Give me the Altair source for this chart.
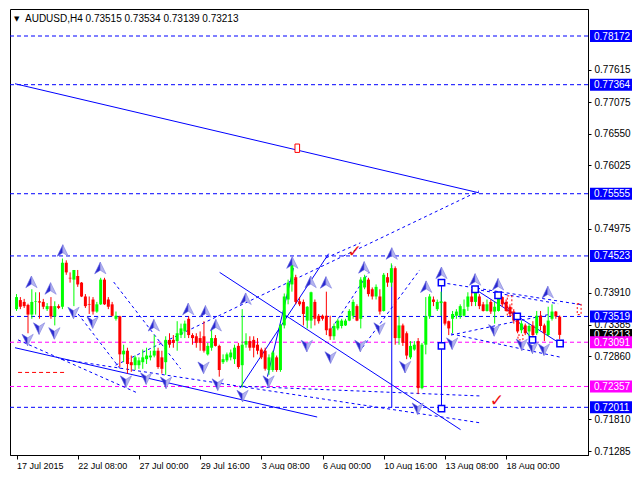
import altair as alt
import pandas as pd

# ---------------- candle data (AUDUSD H4, one bar every 4 hours) ----------------
open_ = [0.7364, 0.7379, 0.7376, 0.7371, 0.7355, 0.7376, 0.7377, 0.7376, 0.7364, 0.7369,
         0.7352, 0.7369, 0.7368, 0.7441, 0.7416, 0.7413, 0.7419, 0.7408, 0.7385, 0.7372,
         0.7380, 0.7360, 0.7372, 0.7413, 0.7380, 0.7372, 0.7348, 0.7352, 0.7289, 0.7295,
         0.7276, 0.7271, 0.7271, 0.7276, 0.7281, 0.7284, 0.7287, 0.7295, 0.7284, 0.7276,
         0.7313, 0.7313, 0.7311, 0.7321, 0.7327, 0.7348, 0.7321, 0.7319, 0.7316, 0.7319,
         0.7289, 0.7300, 0.7316, 0.7303, 0.7276, 0.7279, 0.7284, 0.7281, 0.7303, 0.7271,
         0.7305, 0.7311, 0.7313, 0.7305, 0.7297, 0.7295, 0.7263, 0.7263, 0.7284, 0.7263,
         0.7337, 0.7380, 0.7405, 0.7417, 0.7377, 0.7376, 0.7345, 0.7345, 0.7376, 0.7353,
         0.7353, 0.7353, 0.7332, 0.7319, 0.7332, 0.7336, 0.7337, 0.7345, 0.7353, 0.7369,
         0.7348, 0.7400, 0.7413, 0.7397, 0.7385, 0.7385, 0.7361, 0.7417, 0.7408, 0.7432,
         0.7316, 0.7337, 0.7324, 0.7284, 0.7297, 0.7311, 0.7233, 0.7305, 0.7352, 0.7380,
         0.7364, 0.7374, 0.7376, 0.7344, 0.7348, 0.7353, 0.7353, 0.7353, 0.7368, 0.7385,
         0.7376, 0.7385, 0.7372, 0.7361, 0.7376, 0.7360, 0.7361, 0.7384, 0.7376, 0.7368,
         0.7360, 0.7348, 0.7329, 0.7337, 0.7327, 0.7337, 0.7324, 0.7353, 0.7337, 0.7321,
         0.7348, 0.7360, 0.73515]
high = [0.7389, 0.7384, 0.7381, 0.7373, 0.7397, 0.7392, 0.7392, 0.7381, 0.7374, 0.7384,
        0.7377, 0.7372, 0.7448, 0.7445, 0.7425, 0.7429, 0.7429, 0.7409, 0.7389, 0.7385,
        0.7384, 0.7376, 0.7416, 0.7416, 0.7384, 0.7376, 0.7360, 0.7353, 0.7305, 0.7300,
        0.7287, 0.7287, 0.7284, 0.7297, 0.7300, 0.7295, 0.7321, 0.7300, 0.7295, 0.7319,
        0.7324, 0.7321, 0.7344, 0.7340, 0.7345, 0.7352, 0.7324, 0.7324, 0.7327, 0.7344,
        0.7308, 0.7332, 0.7321, 0.7305, 0.7289, 0.7292, 0.7297, 0.7305, 0.7308, 0.7364,
        0.7324, 0.7319, 0.7319, 0.7316, 0.7300, 0.7300, 0.7289, 0.7295, 0.7287, 0.7340,
        0.7390, 0.7413, 0.7441, 0.7421, 0.7384, 0.7380, 0.7369, 0.7393, 0.7380, 0.7356,
        0.7355, 0.7393, 0.7353, 0.7340, 0.7348, 0.7348, 0.7348, 0.7364, 0.7380, 0.7372,
        0.7417, 0.7421, 0.7416, 0.7400, 0.7405, 0.7397, 0.7424, 0.7424, 0.7440, 0.7435,
        0.7353, 0.7340, 0.7327, 0.7311, 0.7311, 0.7316, 0.7308, 0.7384, 0.7389, 0.7385,
        0.7380, 0.7393, 0.7377, 0.7345, 0.7361, 0.7364, 0.7372, 0.7380, 0.7392, 0.7397,
        0.7400, 0.7389, 0.7376, 0.7380, 0.7380, 0.7376, 0.7389, 0.7385, 0.7380, 0.7372,
        0.7364, 0.7353, 0.7345, 0.7340, 0.7340, 0.7344, 0.7361, 0.7361, 0.7340, 0.7368,
        0.7372, 0.7361, 0.73534]
low = [0.7361, 0.7364, 0.7366, 0.7324, 0.7348, 0.7355, 0.7348, 0.7364, 0.7361, 0.7348,
       0.7337, 0.7364, 0.7364, 0.7421, 0.7408, 0.7369, 0.7401, 0.7384, 0.7366, 0.7356,
       0.7355, 0.7358, 0.7371, 0.7371, 0.7364, 0.7352, 0.7345, 0.7268, 0.7276, 0.7257,
       0.7260, 0.7263, 0.7265, 0.7265, 0.7273, 0.7279, 0.7284, 0.7265, 0.7257, 0.7255,
       0.7300, 0.7300, 0.7295, 0.7316, 0.7316, 0.7316, 0.7305, 0.7300, 0.7295, 0.7292,
       0.7287, 0.7295, 0.7302, 0.7252, 0.7273, 0.7276, 0.7279, 0.7273, 0.7265, 0.7234,
       0.7300, 0.7295, 0.7284, 0.7289, 0.7281, 0.7262, 0.7255, 0.7260, 0.7260, 0.7260,
       0.7332, 0.7372, 0.7393, 0.7372, 0.7369, 0.7337, 0.7332, 0.7332, 0.7337, 0.7340,
       0.7345, 0.7321, 0.7313, 0.7313, 0.7329, 0.7332, 0.7336, 0.7344, 0.7348, 0.7344,
       0.7332, 0.7397, 0.7385, 0.7380, 0.7380, 0.7355, 0.7360, 0.7401, 0.7401, 0.7305,
       0.7305, 0.7303, 0.7281, 0.7281, 0.7295, 0.7223, 0.7231, 0.7289, 0.7348, 0.7369,
       0.7361, 0.7353, 0.7337, 0.7321, 0.7324, 0.7348, 0.7348, 0.7352, 0.7361, 0.7369,
       0.7369, 0.7364, 0.7360, 0.7360, 0.7356, 0.7340, 0.7360, 0.7368, 0.7360, 0.7352,
       0.7340, 0.7324, 0.7324, 0.7321, 0.7319, 0.7316, 0.7321, 0.7329, 0.7311, 0.7319,
       0.7345, 0.7348, 0.73139]
close = [0.7384, 0.7368, 0.7369, 0.7355, 0.7376, 0.7377, 0.7375, 0.7368, 0.7369, 0.7352,
         0.7369, 0.7366, 0.7441, 0.7425, 0.7415, 0.7429, 0.7405, 0.7385, 0.7369, 0.7371,
         0.7360, 0.7372, 0.7413, 0.7372, 0.7368, 0.7353, 0.7353, 0.7289, 0.7295, 0.7273,
         0.7271, 0.7284, 0.7279, 0.7284, 0.7287, 0.7287, 0.7295, 0.7268, 0.7265, 0.7313,
         0.7305, 0.7308, 0.7324, 0.7332, 0.7340, 0.7321, 0.7316, 0.7308, 0.7308, 0.7295,
         0.7303, 0.7316, 0.7303, 0.7263, 0.7281, 0.7289, 0.7292, 0.7300, 0.7268, 0.7305,
         0.7311, 0.7300, 0.7300, 0.7295, 0.7284, 0.7265, 0.7284, 0.7292, 0.7263, 0.7337,
         0.7385, 0.7408, 0.7438, 0.7376, 0.7372, 0.7356, 0.7368, 0.7392, 0.7348, 0.7344,
         0.7348, 0.7329, 0.7319, 0.7336, 0.7345, 0.7345, 0.7345, 0.7361, 0.7376, 0.7345,
         0.7413, 0.7417, 0.7389, 0.7385, 0.7401, 0.7360, 0.7421, 0.7408, 0.7432, 0.7316,
         0.7337, 0.7308, 0.7287, 0.7303, 0.7305, 0.7233, 0.7305, 0.7352, 0.7385, 0.7376,
         0.7376, 0.7377, 0.7340, 0.7332, 0.7356, 0.7360, 0.7369, 0.7364, 0.7385, 0.7376,
         0.7392, 0.7369, 0.7361, 0.7372, 0.7360, 0.7368, 0.7384, 0.7372, 0.7361, 0.7356,
         0.7345, 0.7327, 0.7340, 0.7324, 0.7336, 0.7321, 0.7353, 0.7336, 0.7324, 0.7345,
         0.7360, 0.7352, 0.73213]
bars = list(range(len(open_)))

# ---------------- axis labels ----------------
x_label_bars = [0, 16, 32, 48, 64, 80, 96, 112, 128]
x_labels = ["17 Jul 2015", "22 Jul 08:00", "27 Jul 00:00", "29 Jul 16:00", "3 Aug 08:00",
            "6 Aug 00:00", "10 Aug 16:00", "13 Aug 08:00", "18 Aug 00:00"]
y_ticks = [0.71285, 0.71810, 0.72860, 0.73385, 0.73910, 0.74975, 0.76025, 0.76550, 0.77075, 0.77615]

# ---------------- horizontal levels ----------------
level_price = [0.78172, 0.77364, 0.75555, 0.74523, 0.73519, 0.72011, 0.73091, 0.72357]
level_kind = ["level", "level", "level", "level", "level", "level", "target", "target"]

box_price = [0.78172, 0.77364, 0.75555, 0.74523, 0.73519, 0.73213, 0.73091, 0.72357, 0.72011]
box_kind = ["level", "level", "level", "level", "level", "bid", "target", "target", "level"]

red_level_bar = [0.4, 12.9]
red_level_price = 0.7259

# ---------------- trend lines (bar index, price) ----------------
solid_x1 = [-0.4, -0.4, 58.4, 53.1, 65.6, 98.1, 111.1, 119.9, 125.9]
solid_p1 = [0.7738, 0.7300, 0.7233, 0.7425, 0.7252, 0.7437, 0.7408, 0.7397, 0.7387]
solid_x2 = [120.9, 78.6, 81.6, 116.1, 72.4, 98.1, 111.1, 142.1, 134.9]
solid_p2 = [0.7557, 0.7185, 0.7456, 0.7164, 0.7432, 0.7201, 0.7199, 0.7307, 0.7313]

dash_x1 = [25.4, 16.1, 0.4, 11.6, 25.9, 80.9, 82.4, 90.4, 59.1, 111.1, 119.9, 113.6, 113.6]
dash_p1 = [0.7409, 0.7356, 0.7313, 0.7281, 0.7271, 0.7449, 0.7332, 0.7300, 0.7236, 0.7408, 0.7397, 0.7323, 0.7321]
dash_x2 = [42.9, 27.1, 31.6, 121.6, 120.9, 89.9, 92.1, 105.4, 121.1, 148.1, 141.6, 142.4, 139.1]
dash_p2 = [0.7265, 0.7265, 0.7225, 0.7175, 0.7560, 0.7474, 0.7425, 0.7429, 0.7220, 0.7371, 0.7373, 0.7284, 0.7355]

square_bar = [111.1, 111.1, 111.1, 119.9, 125.9, 130.9, 134.9, 142.1]
square_price = [0.7408, 0.7303, 0.7199, 0.7397, 0.7387, 0.7352, 0.7313, 0.7307]

# ---------------- fractal arrows ----------------
up_bar = [3.9, 8.9, 12.1, 21.9, 35.9, 44.9, 49.4, 52.1, 59.9, 72.1, 76.9, 80.9, 90.9,
          98.1, 107.1, 111.1, 119.9, 125.9, 138.9]
up_price = [0.7409, 0.7398, 0.7461, 0.7432, 0.7337, 0.7364, 0.7360, 0.7337, 0.7381, 0.7441,
            0.7409, 0.7408, 0.7433, 0.7456, 0.7401, 0.7424, 0.7413, 0.7405, 0.7392]
down_bar = [2.9, 5.9, 9.9, 14.9, 19.9, 28.6, 33.9, 39.1, 48.9, 52.6, 59.1, 65.9, 75.9,
            82.1, 89.9, 94.9, 101.6, 104.9, 113.9, 124.9, 132.1, 134.9, 137.9]
down_price = [0.7313, 0.7332, 0.7324, 0.7358, 0.7342, 0.7244, 0.7249, 0.7242, 0.7267, 0.7239,
              0.7220, 0.7244, 0.7303, 0.7284, 0.7303, 0.7332, 0.7268, 0.7199, 0.7307, 0.7329,
              0.7305, 0.7300, 0.7297]

check_bar = [88.4, 125.6]
check_price = [0.7458, 0.7212]
marker_bar = [73.4]
marker_price = [0.7631]

proj_x1 = [128.3, 131.1, 146.6]
proj_x2 = [129.5, 132.4, 147.6]
proj_p1 = [0.7386, 0.7321, 0.7373]
proj_p2 = [0.7354, 0.7313, 0.7355]

title_text = "AUDUSD,H4  0.73515 0.73534 0.73139 0.73213"

# ---------------- chart ----------------
W, H = 578, 446
FONT = "Liberation Sans"
xs = alt.Scale(domain=[-0.4, 148.1], nice=False, zero=False)
ys = alt.Scale(domain=[0.7122, 0.7862], nice=False, zero=False)

candles = pd.DataFrame({"bar": bars, "open": open_, "high": high, "low": low, "close": close})
candles["dir"] = ["up" if c >= o else "down" for o, c in zip(open_, close)]

levels = pd.DataFrame({"price": level_price, "kind": level_kind})
boxes = pd.DataFrame({"price": box_price, "kind": box_kind})
solid = pd.DataFrame({"x": solid_x1, "y": solid_p1, "x2": solid_x2, "y2": solid_p2})
dashed = pd.DataFrame({"x": dash_x1, "y": dash_p1, "x2": dash_x2, "y2": dash_p2})
squares = pd.DataFrame({"x": square_bar, "y": square_price})
ups = pd.DataFrame({"x": up_bar, "y": up_price})
downs = pd.DataFrame({"x": down_bar, "y": down_price})
checks = pd.DataFrame({"x": check_bar, "y": check_price})
marker = pd.DataFrame({"x": marker_bar, "y": marker_price})
proj = pd.DataFrame({"x": proj_x1, "x2": proj_x2, "y": proj_p1, "y2": proj_p2})
redlvl = pd.DataFrame({"x": [red_level_bar[0]], "x2": [red_level_bar[1]], "y": [red_level_price]})

label_expr = ("[" + ",".join("'%s'" % s for s in x_labels) + "][indexof(["
              + ",".join(str(v) for v in x_label_bars) + "], datum.value)]")

x_axis = alt.Axis(values=x_label_bars, labelExpr=label_expr, labelAlign="left", labelPadding=2,
                  tickSize=4, tickColor="black", domainColor="black", grid=False, title=None,
                  labelFont=FONT, labelFontSize=9, labelColor="black", labelOverlap=False,
                  labelFlush=False, zindex=1)
y_axis = alt.Axis(orient="right", values=y_ticks, format=".5f", tickSize=3, tickColor="black",
                  domainColor="black", labelPadding=3, grid=False, title=None, labelFont=FONT,
                  labelFontSize=10, labelColor="black", labelOverlap=False, labelFlush=False,
                  zindex=0)


def X(f):
    return alt.X(f, type="quantitative", scale=xs, axis=x_axis, title=None)


def Y(f):
    return alt.Y(f, type="quantitative", scale=ys, axis=y_axis, title=None)


layers = []

# level lines
for kind, col in [("level", "#0000ff"), ("target", "#ff00ff")]:
    layers.append(alt.Chart(levels).transform_filter(alt.datum.kind == kind)
                  .mark_rule(color=col, strokeWidth=1, strokeDash=[4, 3])
                  .encode(y=Y("price")))
layers.append(alt.Chart(redlvl).mark_rule(color="#ff0000", strokeWidth=1, strokeDash=[4, 3])
              .encode(x=X("x"), x2="x2:Q", y=Y("y")))

# trend lines
layers.append(alt.Chart(solid).mark_rule(color="#0000ff", strokeWidth=1)
              .encode(x=X("x"), y=Y("y"), x2="x2:Q", y2="y2:Q"))
layers.append(alt.Chart(dashed).mark_rule(color="#0000ff", strokeWidth=1, strokeDash=[3, 3])
              .encode(x=X("x"), y=Y("y"), x2="x2:Q", y2="y2:Q"))

# candles
for d, col in [("up", "#00ff00"), ("down", "#ff0000")]:
    layers.append(alt.Chart(candles).transform_filter(alt.datum.dir == d)
                  .mark_rule(color=col, strokeWidth=1)
                  .encode(x=X("bar"), y=Y("low"), y2="high:Q"))
    layers.append(alt.Chart(candles).transform_filter(alt.datum.dir == d)
                  .mark_bar(color=col, size=3)
                  .encode(x=X("bar"), y=Y("open"), y2="close:Q"))

# projection boxes
layers.append(alt.Chart(proj).mark_rect(fill=None, stroke="#ff0000", strokeWidth=1, strokeDash=[2, 2])
              .encode(x=X("x"), x2="x2:Q", y=Y("y"), y2="y2:Q"))

# wave point squares
layers.append(alt.Chart(squares).mark_point(shape="square", size=40, filled=True, fill="white",
                                            stroke="#0000ff", strokeWidth=1.5, opacity=1)
              .encode(x=X("x"), y=Y("y")))

# fractal arrows: dark left half, pale right half
up_left = "M0,-1L0,0.35L-0.95,0.95Z"
up_right = "M0,-1L0.95,0.95L0,0.35Z"
down_left = "M0,1L0,-0.35L-0.95,-0.95Z"
down_right = "M0,1L0.95,-0.95L0,-0.35Z"
for df, lp, rp in [(ups, up_left, up_right), (downs, down_left, down_right)]:
    layers.append(alt.Chart(df).mark_point(shape=lp, size=140, filled=True, fill="#2a2ad0",
                                           stroke="#6060e0", strokeWidth=0.6, opacity=1)
                  .encode(x=X("x"), y=Y("y")))
    layers.append(alt.Chart(df).mark_point(shape=rp, size=140, filled=True, fill="#b4b4ee",
                                           stroke="#8080e0", strokeWidth=0.6, opacity=1)
                  .encode(x=X("x"), y=Y("y")))

# check marks and marker
layers.append(alt.Chart(checks).mark_text(text="\u2713", color="#ee1111", fontSize=17,
                                          fontWeight="bold", font="DejaVu Sans")
              .encode(x=X("x"), y=Y("y")))
layers.append(alt.Chart(marker).mark_point(shape="M-0.55,-1L0.55,-1L0.55,1L-0.55,1Z", size=70,
                                           filled=True, fill="white", stroke="#ff0000",
                                           strokeWidth=1, opacity=1)
              .encode(x=X("x"), y=Y("y")))

# price boxes on the axis
for kind, col in [("level", "#0000ff"), ("bid", "#000000"), ("target", "#ff00ff")]:
    layers.append(alt.Chart(boxes).transform_filter(alt.datum.kind == kind)
                  .mark_rect(color=col, yOffset=-6, y2Offset=6)
                  .encode(x=alt.value(W + 2), x2=alt.value(W + 44), y=Y("price"), y2="price:Q"))
    layers.append(alt.Chart(boxes).transform_filter(alt.datum.kind == kind)
                  .mark_text(align="left", baseline="middle", color="white",
                             font=FONT, fontSize=10, dy=0.5)
                  .encode(x=alt.value(W + 6), y=Y("price"), text=alt.Text("price:Q", format=".5f")))

# title
title_df = pd.DataFrame({"t": [title_text], "arrow": ["\u25bc"]})
layers.append(alt.Chart(title_df).mark_text(align="left", baseline="middle", font=FONT,
                                            fontSize=10, color="black")
              .encode(x=alt.value(15), y=alt.value(10), text="t:N"))
layers.append(alt.Chart(title_df).mark_text(align="left", baseline="middle", font="DejaVu Sans",
                                            fontSize=7, color="black")
              .encode(x=alt.value(4), y=alt.value(10), text="arrow:N"))

chart = (alt.layer(*layers)
         .properties(width=W, height=H, padding={"left": 1, "top": 1, "right": 0, "bottom": 0},
                     background="white")
         .configure_view(stroke="black", strokeWidth=1))

chart.save("out.html", embed_options={"renderer": "svg", "actions": False})
